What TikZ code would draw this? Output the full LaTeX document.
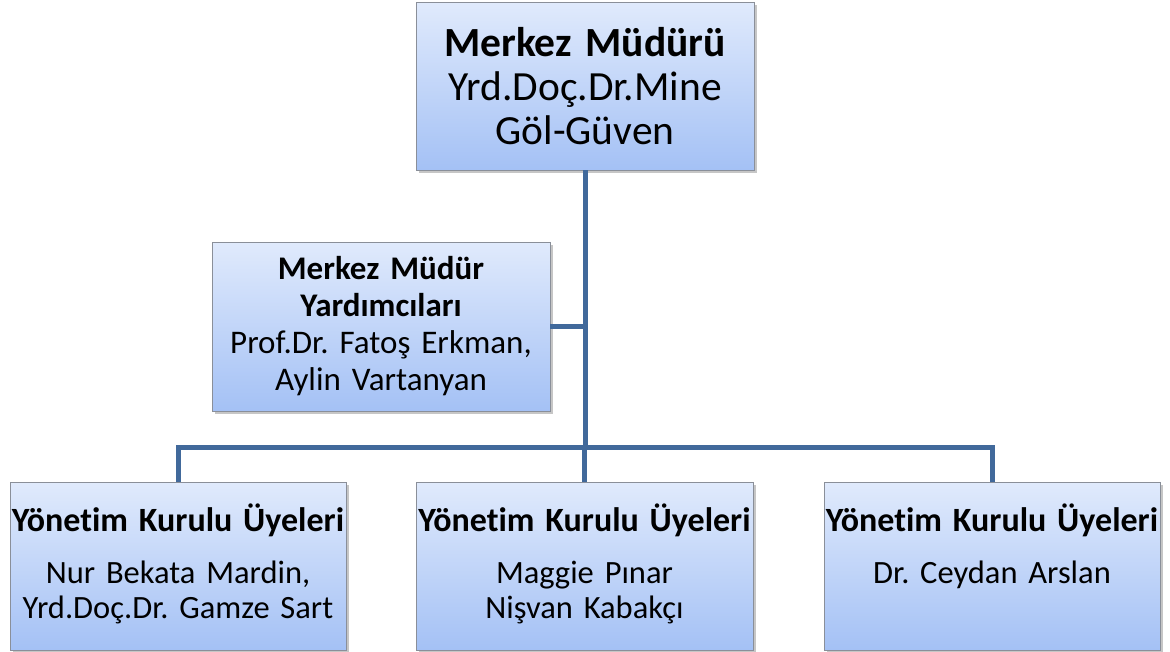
\documentclass[tikz,border=0pt]{standalone}
\usepackage{fontspec}
\setmainfont{Carlito}[Ligatures=NoCommon]
\frenchspacing
\usetikzlibrary{positioning,shadows}

\definecolor{boxtop}{HTML}{E0EAFC}
\definecolor{boxbottom}{HTML}{A4C1F5}
\definecolor{boxline}{HTML}{8A8F99}
\definecolor{linkcol}{HTML}{41699B}

\begin{document}
\begin{tikzpicture}[line join=miter,
  orgbox/.style={rectangle,draw=boxline,line width=0.8bp,top color=boxtop,bottom color=boxbottom,
    drop shadow={shadow xshift=2.5bp,shadow yshift=-2.5bp,opacity=0.45},
    inner sep=0pt,align=center},
  boxtext/.style={inner sep=0pt,align=center,text width=334bp,
    font=\fontsize{32.5bp}{35bp}\selectfont},
  link/.style={draw=linkcol,line width=5bp}]
  \useasboundingbox (0bp,0bp) rectangle (1170bp,-652bp);
%%
  % Node: Merkez Mudurü
  \node [orgbox,minimum width=338bp,minimum height=168bp,text width=330bp,
    font=\fontsize{41.5bp}{44bp}\selectfont] (mudur) at (585bp,-86bp)
    {\textbf{Merkez Müdürü}\\Yrd.Doç.Dr.Mine\\Göl-Güven};
  % Node: Yardımcılar
  \node [orgbox,minimum width=338bp,minimum height=169bp,text width=330bp,
    font=\fontsize{33bp}{37bp}\selectfont] (yard) at (381bp,-326.5bp)
    {\textbf{Merkez Müdür}\\\textbf{Yardımcıları}\\Prof.Dr. Fatoş Erkman,\\Aylin Vartanyan};
  % Node: Kurul
  \node [orgbox,minimum width=336bp,minimum height=168bp] (kurul1) at (178bp,-566bp) {};
  \node [orgbox,minimum width=337bp,minimum height=168bp] (kurul2) at (584.5bp,-566bp) {};
  \node [orgbox,minimum width=336bp,minimum height=168bp] (kurul3) at (992bp,-566bp) {};
  \node [boxtext,below=22bp of kurul1.north] (metin1)
    {{\fontsize{34bp}{35bp}\selectfont\textbf{Yönetim Kurulu Üyeleri}}\\[17bp]Nur Bekata Mardin,\\Yrd.Doç.Dr. Gamze Sart};
  \node [boxtext,below=22bp of kurul2.north] (metin2)
    {{\fontsize{34bp}{35bp}\selectfont\textbf{Yönetim Kurulu Üyeleri}}\\[17bp]Maggie Pınar\\Nişvan Kabakçı};
  \node [boxtext,below=22bp of kurul3.north] (metin3)
    {{\fontsize{34bp}{35bp}\selectfont\textbf{Yönetim Kurulu Üyeleri}}\\[17bp]Dr. Ceydan Arslan};
%
  \coordinate (bus) at (585bp,-447bp);
  % Edge: mudur -> bus
  \draw [link] (mudur.south) -- (bus);
  % Edge: yard -> main line
  \draw [link] (yard.east) -- (yard.east -| mudur.south);
  % Edge: bus -> kurul
  \draw [link] (kurul1.north) |- (bus) -| (kurul3.north);
  \draw [link] (bus -| kurul2.north) -- (kurul2.north);
%
\end{tikzpicture}
\end{document}
